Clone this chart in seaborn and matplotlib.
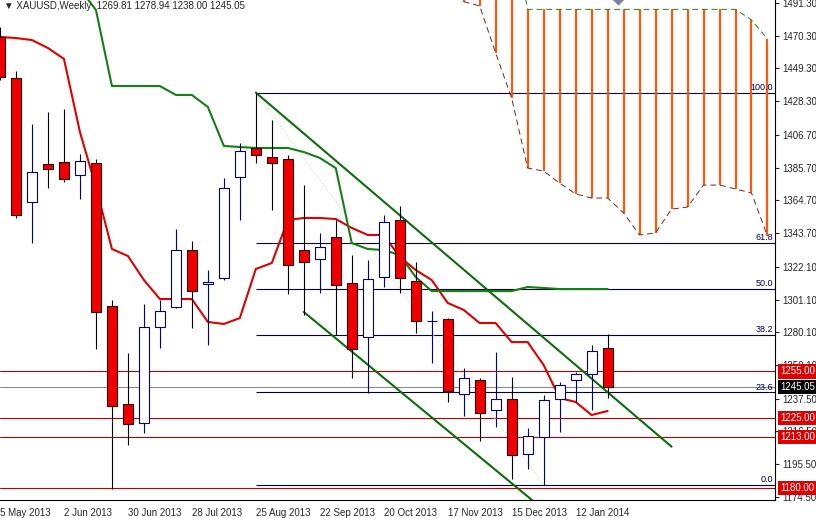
import numpy as np
import pandas as pd
import matplotlib
matplotlib.use("Agg")
import matplotlib.pyplot as plt
import seaborn as sns

sns.set_style("white")
plt.rcParams['font.family'] = ['Liberation Sans', 'DejaVu Sans']

# weekly XAUUSD candles, week 0 = 5 May 2013
opens = [1469.5, 1443.2, 1363.6, 1388.0, 1389.3, 1380.9, 1388.6, 1296.9, 1234.1, 1221.9,
         1283.5, 1296.3, 1332.8, 1311.0, 1314.9, 1379.7, 1398.3, 1392.5, 1391.2, 1332.8,
         1327.1, 1341.2, 1311.7, 1277.0, 1315.5, 1352.1, 1313.0, 1287.3, 1288.6, 1240.5,
         1249.5, 1230.2, 1237.3, 1202.0, 1212.9, 1237.3, 1249.5, 1253.3, 1269.81]
highs = [1476.0, 1447.7, 1413.7, 1421.4, 1423.3, 1394.4, 1391.2, 1300.8, 1266.8, 1298.2,
         1300.8, 1346.3, 1338.6, 1320.0, 1379.0, 1401.5, 1433.8, 1416.2, 1393.8, 1374.5,
         1343.7, 1352.1, 1329.6, 1326.4, 1355.3, 1361.1, 1325.2, 1293.7, 1289.2, 1257.2,
         1250.8, 1267.4, 1251.4, 1218.7, 1239.8, 1248.2, 1254.6, 1271.9, 1278.94]
lows = [1441.9, 1353.4, 1337.3, 1372.6, 1376.5, 1365.6, 1269.3, 1179.6, 1207.8, 1215.5,
        1270.0, 1295.6, 1282.8, 1271.9, 1313.6, 1352.1, 1388.6, 1358.5, 1304.6, 1291.2,
        1305.3, 1278.3, 1251.0, 1241.4, 1309.1, 1305.3, 1279.6, 1260.4, 1235.4, 1226.4,
        1210.3, 1219.3, 1185.9, 1192.4, 1182.1, 1216.1, 1235.4, 1230.2, 1238.00]
closes = [1443.8, 1355.3, 1382.9, 1384.8, 1378.4, 1389.9, 1293.1, 1232.8, 1221.2, 1283.5,
          1293.7, 1332.8, 1306.6, 1312.3, 1372.6, 1396.3, 1393.8, 1388.6, 1323.2, 1325.2,
          1334.8, 1310.4, 1269.3, 1314.2, 1350.8, 1314.9, 1287.3, 1287.3, 1242.4, 1250.8,
          1228.3, 1237.3, 1201.4, 1213.5, 1236.6, 1246.3, 1253.3, 1268.1, 1245.05]

# ichimoku lines
tenkan = [1469.5, 1468.8, 1467.5, 1462.4, 1455.4, 1408.5, 1373.3, 1333.5, 1329.0, 1313.6,
          1301.4, 1301.4, 1301.4, 1286.7, 1285.4, 1289.2, 1320.7, 1324.5, 1352.1, 1353.4,
          1353.4, 1352.7, 1347.0, 1342.5, 1342.5, 1328.4, 1320.0, 1313.6, 1298.9, 1294.4,
          1286.0, 1286.0, 1273.8, 1273.8, 1259.1, 1237.9, 1235.4, 1227.0, 1229.6]
kijun_start = 5
kijun = [1500.3, 1486.8, 1438.0, 1438.0, 1438.0, 1438.0, 1432.3, 1432.3, 1424.6, 1399.6,
         1398.9, 1398.3, 1398.3, 1398.3, 1395.7, 1391.9, 1385.4, 1337.3, 1333.5, 1332.8,
         1329.6, 1315.5, 1306.5, 1306.5, 1306.5, 1306.5, 1306.5, 1306.5, 1309.1, 1308.5,
         1307.8, 1307.8, 1307.8, 1307.8]
cloud_start = 29
cloud_top = [1540, 1540, 1540, 1540] + [1487.2] * 14 + [1480.4, 1468.2]
cloud_bot = [1492.1, 1489.4, 1459.2, 1430.3, 1385.4, 1383.5, 1375.8, 1368.8, 1366.2, 1366.2,
             1356.6, 1342.5, 1343.8, 1359.1, 1360.4, 1374.5, 1374.5, 1372.0, 1369.4, 1341.8]

# fibonacci retracement (high of week 16 to low of week 34)
fib_hi, fib_lo = 1433.8, 1182.1
fib_levels = [100.0, 61.8, 50.0, 38.2, 23.6, 0.0]
fib_from = 16

# channel trendlines (week, price)
upper_tl = [(16, 1433.8), (42.0, 1206.7)]
lower_tl = [(19, 1293.1), (33.34, 1171.9)]

red_levels = [1255.00, 1225.00, 1213.00, 1180.00]
last_price = 1245.05

yticks = [1491.30, 1470.30, 1449.30, 1428.30, 1406.70, 1385.70, 1364.70, 1343.70,
          1322.10, 1301.10, 1280.10, 1259.10, 1237.50, 1216.50, 1195.50, 1174.50]
date_pos = [0, 4, 8, 12, 16, 20, 24, 28, 32, 36]
date_labels = ['5 May 2013', '2 Jun 2013', '30 Jun 2013', '28 Jul 2013', '25 Aug 2013',
               '22 Sep 2013', '20 Oct 2013', '17 Nov 2013', '15 Dec 2013', '12 Jan 2014']

df = pd.DataFrame({'week': np.arange(len(opens)), 'open': opens, 'high': highs,
                   'low': lows, 'close': closes, 'tenkan': tenkan})

fig = plt.figure(figsize=(8.16, 5.18), dpi=100)
ax = fig.add_axes([0, 18 / 518, 775 / 816, 500 / 518])
ax.set_xlim(0.03, 48.47)
ax.set_ylim(1172.5, 1493.2)

# horizontal levels
for lv in red_levels:
    ax.axhline(lv, color='#c00000', lw=0.8, zorder=1)
ax.axhline(last_price, color='#8c8c8c', lw=0.8, zorder=1)

# fib
for lv in fib_levels:
    p = fib_lo + (fib_hi - fib_lo) * lv / 100
    ax.hlines(p, fib_from, 48.47, color='#000030', lw=0.8, zorder=1)
    ax.annotate(f'{lv:.1f}', xy=(773 / 775, p), xycoords=('axes fraction', 'data'),
                xytext=(0, 0.5), textcoords='offset points', ha='right', va='bottom',
                fontsize=6.5, color='#000060')
ax.plot([fib_from, 34], [fib_hi, fib_lo], color='#d8d8d8', lw=0.8, ls=':', zorder=1)

# cloud
cw = np.arange(cloud_start, cloud_start + len(cloud_top))
ax.vlines(cw, cloud_bot, cloud_top, color='#ff5a0a', lw=1.6, zorder=1)
ax.plot(cw, cloud_top, color='#208020', lw=0.7, ls=(0, (6, 4)), zorder=2)
ax.plot(cw, cloud_bot, color='#802020', lw=0.7, ls=(0, (6, 4)), zorder=2)
ax.scatter([38.66], [1493.6], marker='D', s=28, color='#8080a0', zorder=3)

# tenkan / kijun
sns.lineplot(data=df, x='week', y='tenkan', color='#e00000', lw=1.5, ax=ax, zorder=3)
kw = np.arange(kijun_start, kijun_start + len(kijun))
sns.lineplot(x=kw, y=kijun, color='#138013', lw=1.5, ax=ax, zorder=3)

# channel
for tl in (upper_tl, lower_tl):
    ax.plot([tl[0][0], tl[1][0]], [tl[0][1], tl[1][1]], color='#0a6e0a', lw=1.5, zorder=4)

# candles
up = df['close'] >= df['open']
ax.vlines(df['week'][up], df['low'][up], df['high'][up], color='#000080', lw=0.8, zorder=5)
ax.vlines(df['week'][~up], df['low'][~up], df['high'][~up], color='black', lw=0.8, zorder=5)
body_lo = df[['open', 'close']].min(axis=1)
body_h = (df['close'] - df['open']).abs()
ax.bar(df['week'][up], body_h[up], bottom=body_lo[up], width=0.62, color='white',
       edgecolor='#000080', lw=0.8, zorder=6)
ax.bar(df['week'][~up], body_h[~up], bottom=body_lo[~up], width=0.62, color='#f00000',
       edgecolor='#300000', lw=0.8, zorder=6)

# axes styling
for s in ('top', 'left'):
    ax.spines[s].set_visible(False)
for s in ('right', 'bottom'):
    ax.spines[s].set_color('black')
    ax.spines[s].set_linewidth(0.8)
ax.yaxis.tick_right()
ax.set_yticks(yticks)
ax.set_yticklabels([f'{v:.2f}' for v in yticks])
ax.set_xticks(date_pos)
ax.set_xticklabels(date_labels, ha='left')
ax.tick_params(axis='y', direction='out', length=3, width=0.8, pad=2, labelsize=7)
ax.tick_params(axis='x', direction='out', length=4, width=0.8, pad=2, labelsize=7)
ax.set_xlabel('')
ax.set_ylabel('')
ax.grid(False)

# price tags
for lv in red_levels:
    ax.text(1 + 5 / 775, lv, f'{lv:.2f}', transform=ax.get_yaxis_transform(), fontsize=7,
            color='white', va='center', ha='left', clip_on=False, zorder=10,
            bbox=dict(boxstyle='square,pad=0.22', fc='#e00000', ec='none'))
ax.text(1 + 5 / 775, last_price, f'{last_price:.2f}', transform=ax.get_yaxis_transform(),
        fontsize=7, color='white', va='center', ha='left', clip_on=False, zorder=10,
        bbox=dict(boxstyle='square,pad=0.22', fc='black', ec='none'))

ax.text(4 / 775, 1 - 6 / 500, '\u25bc XAUUSD,Weekly  1269.81 1278.94 1238.00 1245.05',
        transform=ax.transAxes, fontsize=7, va='center', ha='left')

fig.savefig('out.png', dpi=100)
